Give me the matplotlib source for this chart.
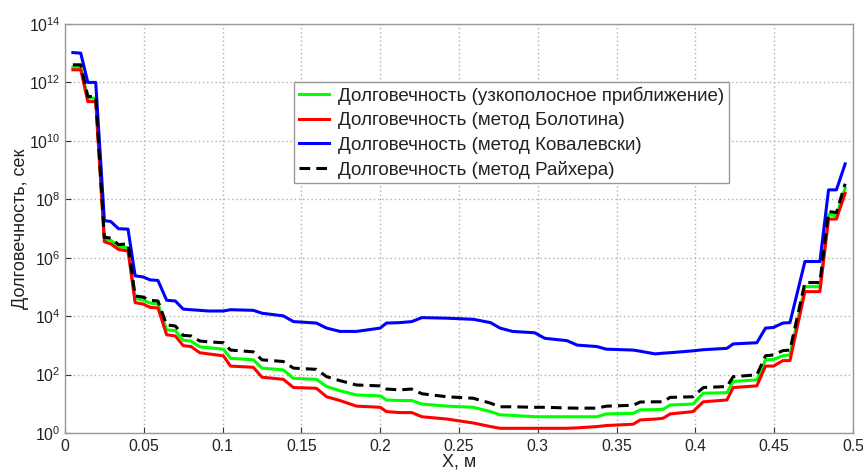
import matplotlib
matplotlib.use("Agg")
import matplotlib.pyplot as plt
import numpy as np

plt.rcParams['font.family'] = ['Liberation Sans', 'DejaVu Sans']
plt.rcParams['mathtext.fontset'] = 'custom'
plt.rcParams['mathtext.rm'] = 'Liberation Sans'
plt.rcParams['mathtext.it'] = 'Liberation Sans'

# Coordinate along the beam, m
x_m = [0.005, 0.010, 0.0145, 0.0195, 0.025, 0.029, 0.034, 0.040, 0.0445, 0.0495,
       0.054, 0.059, 0.0645, 0.070, 0.075, 0.080, 0.0855, 0.091, 0.1005, 0.105,
       0.1195, 0.125, 0.1385, 0.145, 0.1595, 0.166, 0.1745, 0.185, 0.200, 0.204,
       0.2125, 0.220, 0.2265, 0.2425, 0.259, 0.270, 0.276, 0.284, 0.298, 0.3045,
       0.3185, 0.325, 0.3375, 0.3435, 0.3605, 0.365, 0.3745, 0.3795, 0.384, 0.3985,
       0.405, 0.420, 0.424, 0.439, 0.4445, 0.4495, 0.4555, 0.460, 0.4695, 0.479,
       0.4845, 0.4895, 0.495]

# Fatigue life, s
life_narrowband = [3.3e12, 3.3e12, 2.9e11, 2.9e11, 4.3e6, 4.0e6, 2.4e6, 2.2e6, 4.1e4, 3.5e4,
                   2.8e4, 2.6e4, 3.4e3, 3.2e3, 1.5e3, 1.4e3, 8.9e2, 8.3e2, 7.4e2, 3.6e2,
                   3.2e2, 1.66e2, 1.45e2, 74, 69, 39, 28, 20, 18.6, 13.5,
                   12.9, 12.9, 9.8, 8.3, 7.6, 5.4, 4.2, 4.0, 3.6, 3.6,
                   3.6, 3.6, 3.6, 4.5, 4.7, 6.2, 6.3, 6.5, 9.1, 9.8,
                   23, 24, 58, 66, 3.2e2, 3.3e2, 4.4e2, 4.7e2, 1.02e5, 1.02e5,
                   3.0e7, 2.7e7, 2.4e8]
life_bolotin = [2.7e12, 2.7e12, 2.2e11, 2.2e11, 3.5e6, 3.0e6, 1.9e6, 1.7e6, 2.9e4, 2.6e4,
                2.0e4, 1.9e4, 2.3e3, 2.1e3, 9.8e2, 9.1e2, 5.6e2, 5.1e2, 4.4e2, 1.95e2,
                1.78e2, 81, 69, 36, 34, 17.4, 12.9, 8.3, 7.6, 5.4,
                5.0, 5.0, 3.6, 3.0, 2.2, 1.66, 1.45, 1.45, 1.45, 1.45,
                1.45, 1.5, 1.66, 1.8, 2.0, 2.8, 3.0, 3.2, 4.5, 5.4,
                11.7, 13.5, 36, 41, 1.95e2, 1.95e2, 3.0e2, 3.0e2, 6.9e4, 6.9e4,
                2.1e7, 2.1e7, 1.6e8]
life_kowalewski = [1.05e13, 1.0e13, 1.0e12, 1.0e12, 1.86e7, 1.74e7, 9.8e6, 9.5e6, 2.4e5, 2.2e5,
                   1.74e5, 1.66e5, 3.5e4, 3.3e4, 1.74e4, 1.66e4, 1.58e4, 1.5e4, 1.5e4, 1.66e4,
                   1.58e4, 1.26e4, 1.02e4, 6.5e3, 5.8e3, 3.9e3, 3.0e3, 3.0e3, 3.9e3, 5.8e3,
                   6.0e3, 6.5e3, 8.9e3, 8.5e3, 7.8e3, 6.0e3, 3.9e3, 3.0e3, 2.7e3, 1.74e3,
                   1.45e3, 1.02e3, 9.1e2, 7.4e2, 6.9e2, 6.3e2, 5.1e2, 5.4e2, 5.6e2, 6.5e2,
                   7.1e2, 7.9e2, 1.12e3, 1.23e3, 3.9e3, 4.1e3, 5.8e3, 6.0e3, 7.4e5, 7.4e5,
                   2.1e8, 2.1e8, 1.62e9]
life_reicher = [4.0e12, 4.0e12, 3.3e11, 3.3e11, 5.0e6, 4.7e6, 2.8e6, 3.0e6, 4.9e4, 4.5e4,
                3.5e4, 3.3e4, 5.0e3, 4.6e3, 2.2e3, 2.1e3, 1.41e3, 1.32e3, 1.23e3, 6.9e2,
                6.0e2, 3.2e2, 2.8e2, 1.66e2, 1.51e2, 85, 62, 44, 41, 32,
                30, 32, 22, 17.4, 15.5, 10.5, 7.9, 7.9, 7.6, 7.6,
                7.2, 7.1, 7.1, 8.3, 8.9, 11.5, 11.7, 11.7, 16.6, 17.4,
                36, 39, 85, 98, 4.4e2, 4.7e2, 6.6e2, 6.9e2, 1.41e5, 1.41e5,
                3.8e7, 3.5e7, 3.4e8]

series_labels = ['Долговечность (узкополосное приближение)',
                 'Долговечность (метод Болотина)',
                 'Долговечность (метод Ковалевски)',
                 'Долговечность (метод Райхера)']

x_ticks = [0, 0.05, 0.1, 0.15, 0.2, 0.25, 0.3, 0.35, 0.4, 0.45, 0.5]
x_tick_labels = ['0', '0.05', '0.1', '0.15', '0.2', '0.25', '0.3', '0.35', '0.4', '0.45', '0.5']
y_exponents = [0, 2, 4, 6, 8, 10, 12, 14]

fig = plt.figure(figsize=(8.63, 4.70), dpi=100)
ax = fig.add_axes([0.0753, 0.0787, 0.9131, 0.8703])

lw = 2.2
ax.plot(x_m, life_narrowband, color='#00ff00', lw=lw, label=series_labels[0])
ax.plot(x_m, life_bolotin, color='#ff0000', lw=lw, label=series_labels[1])
ax.plot(x_m, life_kowalewski, color='#0000ff', lw=lw, label=series_labels[2])
ax.plot(x_m, life_reicher, color='black', lw=lw, ls=(0, (3.5, 2)), label=series_labels[3])

ax.set_yscale('log')
ax.set_xlim(0, 0.5)
ax.set_ylim(1, 1e14)
ax.set_xticks(x_ticks)
ax.set_xticklabels(x_tick_labels)
ax.set_yticks([10.0 ** e for e in y_exponents])
ax.set_yticklabels([r'$10^{%d}$' % e for e in y_exponents])
ax.minorticks_off()
ax.tick_params(axis='both', direction='in', length=4, labelsize=11.3,
               colors='#333333', labelcolor='#222222')
ax.tick_params(axis='x', pad=4)

ax.grid(True, color='#b0b0b0', ls=(0, (1, 2)), lw=1.0)
for side in ax.spines.values():
    side.set_color('#999999')
    side.set_linewidth(1.0)

ax.set_xlabel('X, м', fontsize=13, color='#222222', labelpad=0)
ax.set_ylabel('Долговечность, сек', fontsize=13, color='#222222', labelpad=0)

leg = ax.legend(loc='upper left', bbox_to_anchor=(0.2906, 0.858), borderaxespad=0,
                fontsize=13.5, handlelength=1.6, handletextpad=0.5,
                labelspacing=0.38, borderpad=0.25, fancybox=False, framealpha=1)
leg.get_frame().set_edgecolor('#999999')
leg.get_frame().set_linewidth(1.0)
for t in leg.get_texts():
    t.set_color('#222222')

fig.savefig('out.png', dpi=100)
